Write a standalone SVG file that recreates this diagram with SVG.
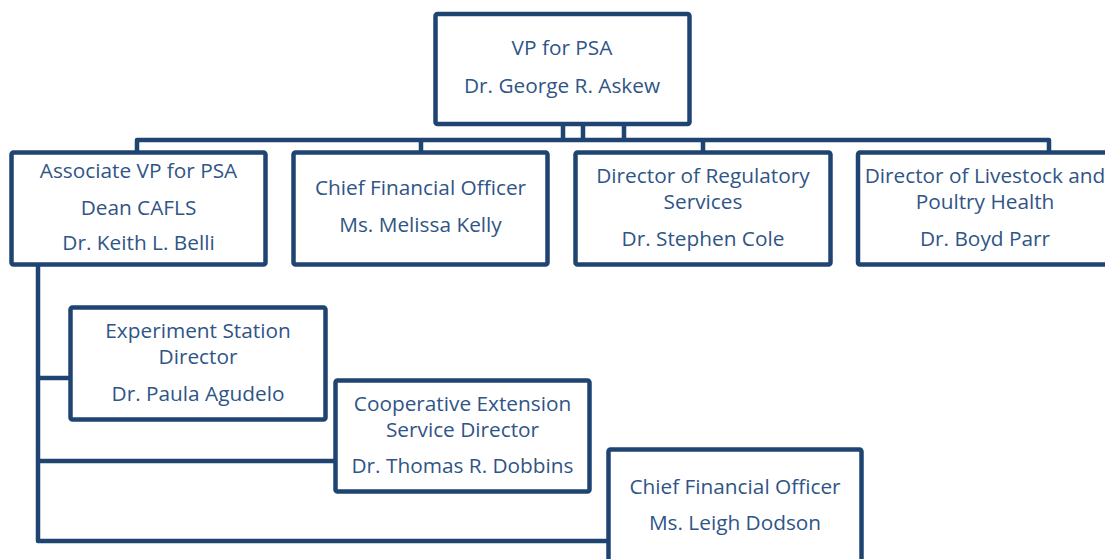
<svg xmlns="http://www.w3.org/2000/svg" width="1105" height="559" viewBox="0 0 1105 559">
<style>
.box{fill:#fff;stroke:#1F4471;stroke-width:4.5;}
.con{fill:none;stroke:#1F4471;stroke-width:4.5;stroke-linejoin:round;}
text{font-family:"Open Sans","Noto Sans",sans-serif;font-size:20.8px;fill:#2F5586;text-anchor:middle;}
</style>
<rect width="1105" height="559" fill="#fff"/>
<g id="connectors">
<path class="con" d="M563 124V140M583 124V140M624 124V140M137 152V140H1049V152M421 140V152M703 140V152"/>
<path class="con" d="M38 264V541H609M38 378H71M38 461H336"/>
</g>
<g id="vp"><rect class="box" x="435.5" y="14" width="254" height="110" rx="2"/><text x="562" y="55">VP for PSA</text><text x="562" y="93">Dr. George R. Askew</text></g>
<g id="assoc"><rect class="box" x="11.5" y="152.5" width="254" height="112" rx="2"/><text x="138.5" y="178">Associate VP for PSA</text><text x="138.5" y="215">Dean CAFLS</text><text x="138.5" y="250">Dr. Keith L. Belli</text></g>
<g id="cfo1"><rect class="box" x="293.5" y="152.5" width="254" height="112" rx="2"/><text x="420.5" y="195">Chief Financial Officer</text><text x="420.5" y="232">Ms. Melissa Kelly</text></g>
<g id="dirreg"><rect class="box" x="575.5" y="152.5" width="255" height="112" rx="2"/><text x="703" y="183">Director of Regulatory</text><text x="703" y="209">Services</text><text x="703" y="246">Dr. Stephen Cole</text></g>
<g id="dirlive"><rect class="box" x="858" y="152.5" width="256" height="112" rx="2"/><text x="985" y="183">Director of Livestock and</text><text x="985" y="209">Poultry Health</text><text x="985" y="246">Dr. Boyd Parr</text></g>
<g id="exp"><rect class="box" x="70.5" y="307.5" width="255" height="112" rx="2"/><text x="198" y="338">Experiment Station</text><text x="198" y="364">Director</text><text x="198" y="401">Dr. Paula Agudelo</text></g>
<g id="coop"><rect class="box" x="335.5" y="380.5" width="254" height="111" rx="2"/><text x="462.5" y="411">Cooperative Extension</text><text x="462.5" y="437">Service Director</text><text x="462.5" y="473">Dr. Thomas R. Dobbins</text></g>
<g id="cfo2"><rect class="box" x="608.5" y="449.5" width="253" height="120" rx="2"/><text x="735" y="494">Chief Financial Officer</text><text x="735" y="530">Ms. Leigh Dodson</text></g>
</svg>
